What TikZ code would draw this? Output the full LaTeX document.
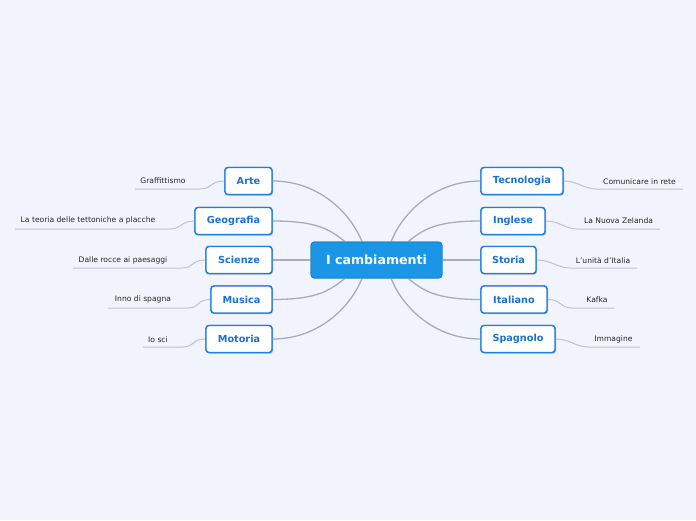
\documentclass[tikz,border=0pt]{standalone}
\usepackage{fontspec}
\setmainfont{DejaVu Sans}
\usetikzlibrary{shadows,calc}
\definecolor{bg}{HTML}{F1F4FD}
\definecolor{mainblue}{HTML}{1B96E6}
\definecolor{childblue}{HTML}{1F7FE0}
\definecolor{childtext}{HTML}{1A72D6}
\definecolor{linkgrey}{HTML}{A9ABB8}
\definecolor{leafgrey}{HTML}{BFC1CC}
\tikzset{
  central/.style={fill=mainblue, draw=mainblue!85!black, line width=0.6pt, rounded corners=3pt,
    minimum width=131pt, minimum height=36pt, inner sep=0pt, text=white,
    font=\fontsize{12.6}{14}\selectfont\bfseries},
  child/.style={fill=white, draw=childblue, line width=1.4pt, rounded corners=3pt,
    minimum height=27pt, inner sep=0pt, text=childtext,
    font=\fontsize{9.7}{11}\selectfont\bfseries,
    drop shadow={opacity=0.25, shadow xshift=1pt, shadow yshift=-1.2pt}},
  leaf/.style={inner sep=0pt, text=black!85, font=\fontsize{7.6}{9}\selectfont},
  link/.style={draw=linkgrey, line width=1.3pt},
  leaflink/.style={draw=leafgrey, line width=1pt},
}
\begin{document}
\begin{tikzpicture}[x=1pt,y=-1pt]
\fill[bg] (0,0) rectangle (696,520);
\useasboundingbox (0,0) rectangle (696,520);

\node[central] (c) at (376.5,260) {I cambiamenti};

% left children
\node[child, minimum width=47pt] (arte) at (248.5,181) {Arte};
\node[child, minimum width=77pt] (geo) at (233.5,221) {Geografia};
\node[child, minimum width=66pt] (sci) at (239,260) {Scienze};
\node[child, minimum width=61pt] (mus) at (241.5,299.5) {Musica};
\node[child, minimum width=66pt] (mot) at (239,339) {Motoria};

% right children
\node[child, minimum width=82pt] (tec) at (522,181) {Tecnologia};
\node[child, minimum width=64pt] (ing) at (513,221) {Inglese};
\node[child, minimum width=55pt] (sto) at (508.5,260) {Storia};
\node[child, minimum width=66pt] (ita) at (514,299.5) {Italiano};
\node[child, minimum width=74pt] (spa) at (518,339) {Spagnolo};

% main links
\draw[link] (arte.east) .. controls +(45,0) and +(-12,-30) .. ($(c.north)+(-14.5,0)$);
\draw[link] (geo.east) .. controls +(45,0) and +(-15,-12) .. ($(c.north)+(-31.5,0)$);
\draw[link] (sci.east) -- (c.west);
\draw[link] (mus.east) .. controls +(45,0) and +(-15,12) .. ($(c.south)+(-31.5,0)$);
\draw[link] (mot.east) .. controls +(45,0) and +(-12,30) .. ($(c.south)+(-14.5,0)$);
\draw[link] (tec.west) .. controls +(-45,0) and +(12,-30) .. ($(c.north)+(14.5,0)$);
\draw[link] (ing.west) .. controls +(-45,0) and +(15,-12) .. ($(c.north)+(31.5,0)$);
\draw[link] (sto.west) -- (c.east);
\draw[link] (ita.west) .. controls +(-45,0) and +(15,12) .. ($(c.south)+(31.5,0)$);
\draw[link] (spa.west) .. controls +(-45,0) and +(12,30) .. ($(c.south)+(14.5,0)$);

% left leaves
\node[leaf] (l1) at (163,181) {Graffittismo};
\coordinate (l1a) at (200,189); \coordinate (l1b) at (135,189);
\draw[leaflink] (arte.west) .. controls +(-14,0) and +(12,0) .. (l1a) -- (l1b);

\node[leaf] (l2) at (88,220.5) {La teoria delle tettoniche a placche};
\coordinate (l2a) at (170,229); \coordinate (l2b) at (15,229);
\draw[leaflink] (geo.west) .. controls +(-14,0) and +(12,0) .. (l2a) -- (l2b);

\node[leaf] (l3) at (123,260.5) {Dalle rocce ai paesaggi};
\coordinate (l3a) at (182,268); \coordinate (l3b) at (73,268);
\draw[leaflink] (sci.west) .. controls +(-14,0) and +(12,0) .. (l3a) -- (l3b);

\node[leaf] (l4) at (143,299.5) {Inno di spagna};
\coordinate (l4a) at (188,308); \coordinate (l4b) at (108,308);
\draw[leaflink] (mus.west) .. controls +(-14,0) and +(12,0) .. (l4a) -- (l4b);

\node[leaf] (l5) at (158,339.5) {Io sci};
\coordinate (l5a) at (183,347); \coordinate (l5b) at (143,347);
\draw[leaflink] (mot.west) .. controls +(-14,0) and +(12,0) .. (l5a) -- (l5b);

% right leaves
\node[leaf] (r1) at (639.5,181.5) {Comunicare in rete};
\coordinate (r1a) at (596,189); \coordinate (r1b) at (683,189);
\draw[leaflink] (tec.east) .. controls +(14,0) and +(-12,0) .. (r1a) -- (r1b);

\node[leaf] (r2) at (618.5,220.5) {La Nuova Zelanda};
\coordinate (r2a) at (577,229); \coordinate (r2b) at (660,229);
\draw[leaflink] (ing.east) .. controls +(14,0) and +(-12,0) .. (r2a) -- (r2b);

\node[leaf] (r3) at (603,260.5) {L'unità d'Italia};
\coordinate (r3a) at (570,268); \coordinate (r3b) at (637,268);
\draw[leaflink] (sto.east) .. controls +(14,0) and +(-12,0) .. (r3a) -- (r3b);

\node[leaf] (r4) at (597,299.5) {Kafka};
\coordinate (r4a) at (572,308); \coordinate (r4b) at (614,308);
\draw[leaflink] (ita.east) .. controls +(14,0) and +(-12,0) .. (r4a) -- (r4b);

\node[leaf] (r5) at (613.5,339.5) {Immagine};
\coordinate (r5a) at (588,347); \coordinate (r5b) at (640,347);
\draw[leaflink] (spa.east) .. controls +(14,0) and +(-12,0) .. (r5a) -- (r5b);

% redraw nodes on top of links
\node[central] at (c) {I cambiamenti};
\node[child, minimum width=47pt] at (arte) {Arte};
\node[child, minimum width=77pt] at (geo) {Geografia};
\node[child, minimum width=66pt] at (sci) {Scienze};
\node[child, minimum width=61pt] at (mus) {Musica};
\node[child, minimum width=66pt] at (mot) {Motoria};
\node[child, minimum width=82pt] at (tec) {Tecnologia};
\node[child, minimum width=64pt] at (ing) {Inglese};
\node[child, minimum width=55pt] at (sto) {Storia};
\node[child, minimum width=66pt] at (ita) {Italiano};
\node[child, minimum width=74pt] at (spa) {Spagnolo};
\end{tikzpicture}
\end{document}
